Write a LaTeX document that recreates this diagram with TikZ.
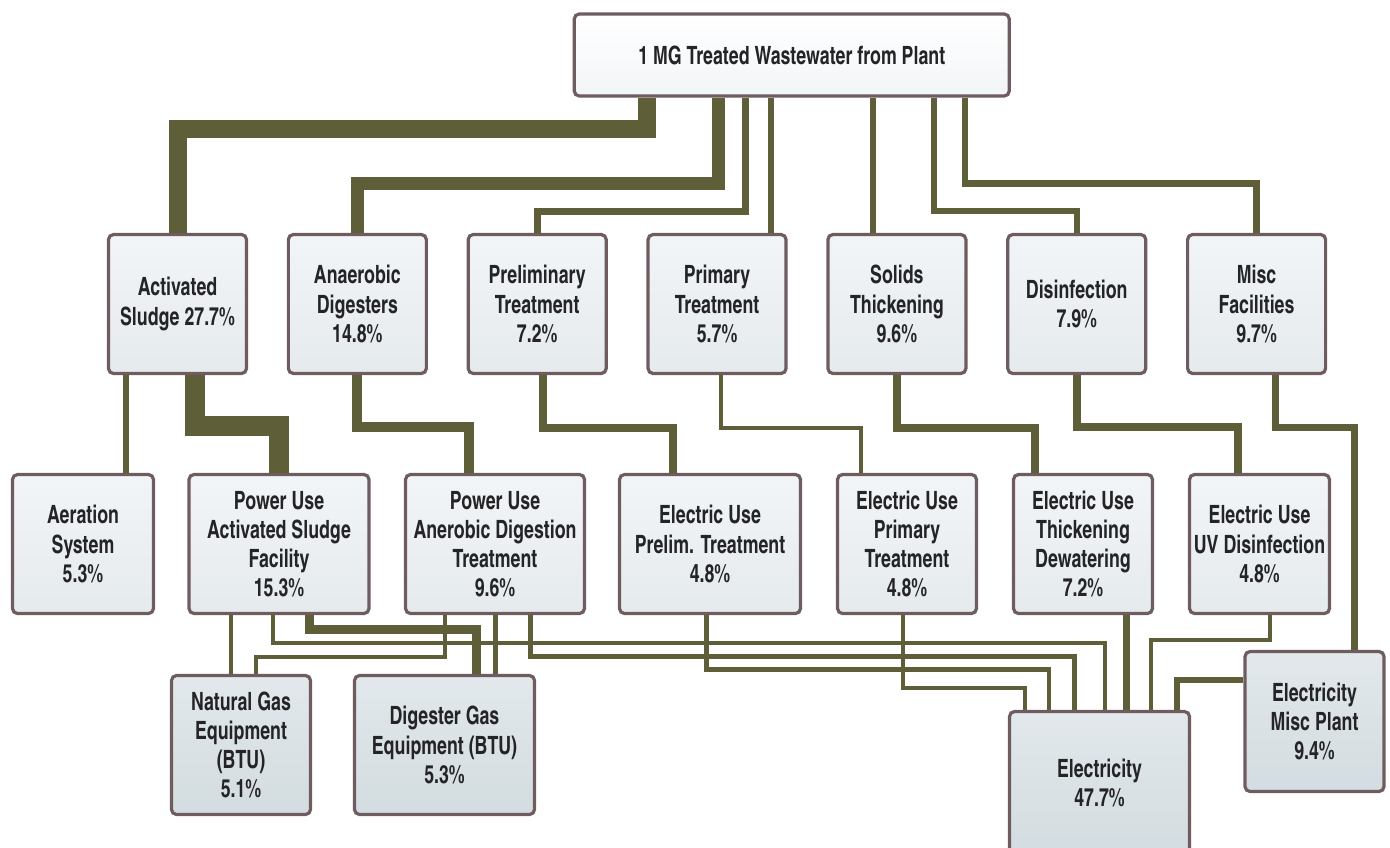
\documentclass[tikz,border=0pt]{standalone}
\usepackage{fontspec}
\setmainfont{TeX Gyre Heros Cn}[FakeStretch=0.86]
\usetikzlibrary{backgrounds}

\definecolor{flowcol}{RGB}{94,94,56}
\definecolor{edgecol}{RGB}{110,92,95}
\definecolor{inkcol}{RGB}{36,36,38}
\definecolor{paletop}{RGB}{242,245,247}
\definecolor{palebot}{RGB}{229,234,237}
\definecolor{deeptop}{RGB}{226,232,235}
\definecolor{deepbot}{RGB}{211,220,224}

\tikzset{
	box/.style={draw=edgecol, line width=1.6pt, rounded corners=2.5pt,
		top color=paletop, bottom color=palebot, text=inkcol, align=center,
		inner sep=0pt, minimum height=69.5pt,
		font=\fontsize{12.6}{14.6}\selectfont\bfseries},
	deep/.style={box, top color=deeptop, bottom color=deepbot},
	flow/.style={draw=flowcol, line width=#1},
}

\begin{document}
\begin{tikzpicture}[x=0.5pt, y=-0.5pt]
	\useasboundingbox (0,0) rectangle (1390,847);

	% source
	\node[box, minimum width=217.5pt, minimum height=41pt, top color=white,
		bottom color=paletop] (src) at (791.75,55) {1 MG Treated Wastewater from Plant};

	% second row
	\foreach \n/\t [count=\i from 0] in {asl/{Activated\\Sludge 27.7\%},
		ad/{Anaerobic\\Digesters\\14.8\%}, pre/{Preliminary\\Treatment\\7.2\%},
		prim/{Primary\\Treatment\\5.7\%}, sol/{Solids\\Thickening\\9.6\%},
		dis/{Disinfection\\7.9\%}, misc/{Misc\\Facilities\\9.7\%}}
	\node[box, minimum width=69pt] (\n) at (177.5+179.85*\i, 304) {\t};

	% third row
	\node[box, minimum width=70.5pt] (aer) at (83,544) {Aeration\\System\\5.3\%};
	\node[box, minimum width=90pt] (pas) at (279,544) {Power Use\\Activated Sludge\\Facility\\15.3\%};
	\node[box, minimum width=89.5pt] (pad) at (495,544) {Power Use\\Anerobic Digestion\\Treatment\\9.6\%};
	\node[box, minimum width=90.5pt] (epre) at (710,544) {Electric Use\\Prelim. Treatment\\4.8\%};
	\node[box, minimum width=69.5pt] (eprim) at (907,544) {Electric Use\\Primary\\Treatment\\4.8\%};
	\node[box, minimum width=69.5pt] (eth) at (1083,544) {Electric Use\\Thickening\\Dewatering\\7.2\%};
	\node[box, minimum width=70pt] (uv) at (1259.5,544) {Electric Use\\UV Disinfection\\4.8\%};

	% sinks
	\node[deep, minimum width=69.5pt] (ng) at (241,745) {Natural Gas\\Equipment\\(BTU)\\5.1\%};
	\node[deep, minimum width=90pt] (dig) at (444.5,745) {Digester Gas\\Equipment (BTU)\\5.3\%};
	\node[deep, minimum width=90pt, minimum height=71.5pt] (elec) at (1099.5,783) {Electricity\\47.7\%};
	\node[deep, minimum width=69.5pt, minimum height=70pt] (mpl) at (1314.5,721.5) {Electricity\\Misc Plant\\9.4\%};

	\begin{scope}[on background layer]
		% source to second row
		\draw[flow=9pt] (src.south -| 647,0) |- (asl.north |- 0,129) -- (asl.north);
		\draw[flow=6.5pt] (src.south -| 718.5,0) |- (ad.north |- 0,183.5) -- (ad.north);
		\draw[flow=3.5pt] (src.south -| 745.5,0) |- (pre.north |- 0,211) -- (pre.north);
		\draw[flow=3pt] (src.south -| 770.5,0) -- (prim.north -| 770.5,0);
		\draw[flow=3.2pt] (src.south -| 873,0) -- (sol.north -| 873,0);
		\draw[flow=3.2pt] (src.south -| 934,0) |- (dis.north |- 0,211) -- (dis.north);
		\draw[flow=3.2pt] (src.south -| 965,0) |- (misc.north |- 0,183.5) -- (misc.north);

		% second row to third row
		\draw[flow=3.2pt] (asl.south -| 126,0) -- (aer.north -| 126,0);
		\draw[flow=10pt] (asl.south -| 195,0) |- (pas.north |- 0,426) -- (pas.north);
		\draw[flow=5pt] (ad.south) |- (469,427) -- (pad.north -| 469,0);
		\draw[flow=3.8pt] (pre.south -| 543,0) |- (673,428) -- (epre.north -| 673,0);
		\draw[flow=2.2pt] (prim.south -| 721,0) |- (861,428) -- (eprim.north -| 861,0);
		\draw[flow=4pt] (sol.south) |- (1035,428) -- (eth.north -| 1035,0);
		\draw[flow=3.8pt] (dis.south) |- (1238,427) -- (uv.north -| 1238,0);
		\draw[flow=3.5pt] (misc.south -| 1275,0) |- (1354,427) -- (mpl.north -| 1354,0);

		% third row to sinks
		\draw[flow=2pt] (pas.south -| 230.5,0) -- (ng.north -| 230.5,0);
		\draw[flow=2pt] (pas.south -| 273,0) |- (1105,642.5) -- (elec.north -| 1105,0);
		\draw[flow=4.2pt] (pas.south -| 309.5,0) |- (476.5,629.5) -- (dig.north -| 476.5,0);
		\draw[flow=2pt] (pad.south -| 445,0) |- (255.5,657) -- (ng.north -| 255.5,0);
		\draw[flow=2.8pt] (pad.south -| 495.5,0) -- (dig.north -| 495.5,0);
		\draw[flow=2.3pt] (pad.south -| 530.5,0) |- (1074.5,656.5) -- (elec.north -| 1074.5,0);
		\draw[flow=2.2pt] (epre.south -| 706.5,0) |- (1049,669.5) -- (elec.north -| 1049,0);
		\draw[flow=2.2pt] (eprim.south -| 903,0) |- (1025,688) -- (elec.north -| 1025,0);
		\draw[flow=3.5pt] (eth.south -| 1126.5,0) -- (elec.north -| 1126.5,0);
		\draw[flow=2.3pt] (uv.south -| 1270,0) |- (1151,640) -- (elec.north -| 1151,0);
		\draw[flow=3pt] (mpl.west |- 0,679.5) -| (elec.north -| 1177,0);
	\end{scope}
\end{tikzpicture}
\end{document}
